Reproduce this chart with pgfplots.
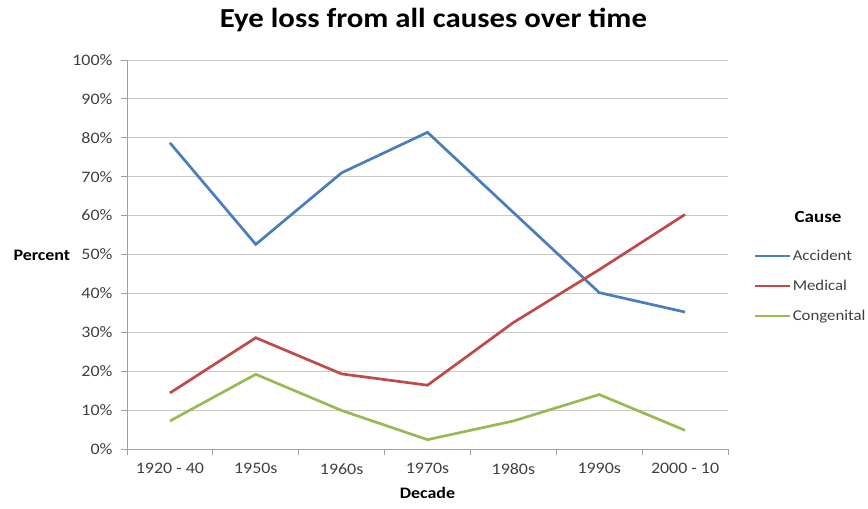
\documentclass[border=0pt]{standalone}
\usepackage{pgfplots}
\pgfplotsset{compat=1.18}
\usepackage{fontspec}
\setmainfont{Carlito}[FakeStretch=1.12]

\definecolor{accblue}{HTML}{4A7EBB}
\definecolor{medred}{HTML}{BE4B48}
\definecolor{congreen}{HTML}{98B954}
\definecolor{gridgray}{HTML}{C8C8C8}
\definecolor{axgray}{HTML}{A0A0A0}
\definecolor{labgray}{HTML}{404040}

\begin{document}
\begin{tikzpicture}
\begin{axis}[
  name=ax,
  width=601pt, height=389pt,
  scale only axis,
  xmin=-0.5, xmax=6.5,
  ymin=0, ymax=100,
  axis x line*=bottom,
  axis y line*=left,
  axis line style={axgray, line width=0.8pt},
  xtick={0,...,6},
  xticklabels={1920 - 40,1950s,1960s,1970s,1980s,1990s,2000 - 10},
  major x tick style={draw=none},
  minor xtick={-0.5,0.5,...,6.5},
  minor x tick style={axgray, line width=0.8pt},
  minor tick length=6pt,
  ytick={0,10,...,100},
  yticklabels={0\%,10\%,20\%,30\%,40\%,50\%,60\%,70\%,80\%,90\%,100\%},
  major y tick style={axgray, line width=0.8pt},
  major tick length=6pt,
  tick align=outside,
  ymajorgrids,
  grid style={gridgray, line width=0.9pt},
  tick label style={font=\fontsize{16}{19}\selectfont, text=labgray},
  xticklabel style={yshift=-5pt},
  yticklabel style={xshift=-5pt},
  /pgf/number format/assume math mode=true,
  legend style={at={(1.043,0.419)}, anchor=west, draw=none, fill=none,
    inner sep=0pt, row sep=14pt,
    font=\fontsize{15}{18}\selectfont, text=labgray,
    nodes={inner xsep=1pt}},
  legend cell align=left,
  legend image code/.code={\draw[#1] (0pt,0pt) -- (35pt,0pt);},
]
\addplot[accblue, line width=2.7pt] coordinates {
(0,78.7) (1,52.6) (2,71.0) (3,81.4) (4,60.8) (5,40.2) (6,35.2)};
\addlegendentry{Accident}
\addplot[medred, line width=2.7pt] coordinates {
(0,14.4) (1,28.6) (2,19.3) (3,16.4) (4,32.5) (5,46.1) (6,60.3)};
\addlegendentry{Medical}
\addplot[congreen, line width=2.7pt] coordinates {
(0,7.2) (1,19.2) (2,9.9) (3,2.4) (4,7.2) (5,14.0) (6,4.8)};
\addlegendentry{Congenital}
\end{axis}
\node[font=\bfseries\fontsize{27.5}{32}\selectfont] at ([shift={(6pt,40pt)}]ax.north) {Eye loss from all causes over time};
\node[font=\bfseries\fontsize{16}{19}\selectfont, anchor=west] at ([shift={(-117pt,194pt)}]ax.south west) {Percent};
\node[font=\bfseries\fontsize{16}{19}\selectfont] at ([shift={(0pt,-44pt)}]ax.south) {Decade};
\node[font=\bfseries\fontsize{17}{20}\selectfont] at ([shift={(90pt,-157pt)}]ax.north east) {Cause};
\pgfresetboundingbox
\path ([shift={(-127pt,-59pt)}]ax.south west) rectangle ([shift={(140pt,60pt)}]ax.north east);
\end{tikzpicture}
\end{document}
